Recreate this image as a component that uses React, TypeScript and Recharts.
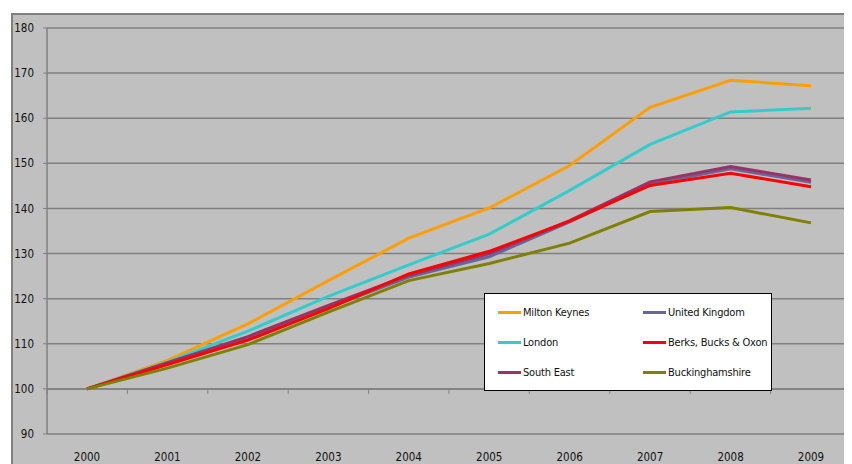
import { LineChart, Line, XAxis, YAxis, CartesianGrid, ReferenceLine, Legend } from 'recharts';

const YEARS = ['2000', '2001', '2002', '2003', '2004', '2005', '2006', '2007', '2008', '2009'];
const MILTON_KEYNES = [100, 106.3, 114.4, 124, 133.4, 140.1, 149.5, 162.4, 168.4, 167.2];
const LONDON = [100, 106, 112.8, 120.5, 127.5, 134.3, 144, 154.2, 161.4, 162.2];
const UNITED_KINGDOM = [100, 105.5, 111.1, 118, 124.8, 129.3, 137, 145.4, 148.8, 145.8];
const SOUTH_EAST = [100, 105.8, 111.6, 118.5, 125.2, 130, 137.3, 145.9, 149.3, 146.3];
const BERKS_BUCKS_OXON = [100, 105.4, 110.8, 117.8, 125.5, 130.5, 137.2, 145.1, 147.8, 144.8];
const BUCKINGHAMSHIRE = [100, 104.6, 109.8, 117, 124, 127.8, 132.3, 139.3, 140.2, 136.8];
const Y_TICKS = [90, 100, 110, 120, 130, 140, 150, 160, 170, 180];

// legend order (row by row, two columns)
const SERIES = [
  { key: 'mk', name: 'Milton Keynes', color: '#FF9E00', values: MILTON_KEYNES },
  { key: 'uk', name: 'United Kingdom', color: '#666699', values: UNITED_KINGDOM },
  { key: 'london', name: 'London', color: '#33CCCC', values: LONDON },
  { key: 'bbo', name: 'Berks, Bucks & Oxon', color: '#FF0000', values: BERKS_BUCKS_OXON },
  { key: 'se', name: 'South East', color: '#993366', values: SOUTH_EAST },
  { key: 'bucks', name: 'Buckinghamshire', color: '#808000', values: BUCKINGHAMSHIRE },
];

// drawing order
const DRAW_ORDER = ['mk', 'london', 'uk', 'se', 'bbo', 'bucks'];

const data = YEARS.map((year, i) => {
  const row: Record<string, string | number> = { year };
  SERIES.forEach((s) => {
    row[s.key] = s.values[i];
  });
  return row;
});

const FONT = '"Liberation Sans Narrow", "DejaVu Sans Condensed", "Arial Narrow", sans-serif';

// x axis crosses at 100, with tick marks between categories
function CrossAxis(props: any) {
  const { x1, y1, x2, y2 } = props;
  const step = (x2 - x1) / YEARS.length;
  const marks = [];
  for (let k = 0; k <= YEARS.length; k++) {
    const x = x1 + k * step;
    marks.push(<line key={k} x1={x} y1={y1} x2={x} y2={y1 + 5} stroke="#808080" strokeWidth={1} />);
  }
  return (
    <g>
      <line x1={x1} y1={y1} x2={x2} y2={y2} stroke="#808080" strokeWidth={1.5} />
      {marks}
    </g>
  );
}

function LegendBox() {
  return (
    <div
      style={{
        width: 288,
        height: 98,
        boxSizing: 'border-box',
        background: '#fff',
        border: '1px solid #000',
        display: 'grid',
        gridTemplateColumns: '145px 141px',
        gridTemplateRows: 'repeat(3, 1fr)',
        alignItems: 'center',
        padding: '3px 0 2px 0',
        fontFamily: FONT,
        fontSize: 11,
        letterSpacing: -0.2,
        color: '#111',
      }}
    >
      {SERIES.map((s) => (
        <div key={s.key} style={{ display: 'flex', alignItems: 'center', paddingLeft: 13, whiteSpace: 'nowrap' }}>
          <span style={{ display: 'inline-block', width: 23, height: 3, background: s.color, marginRight: 2, flexShrink: 0 }} />
          <span>{s.name}</span>
        </div>
      ))}
    </div>
  );
}

export default function App() {
  return (
    <div style={{ width: 844, height: 456, overflow: 'hidden', position: 'relative' }}>
      <div
        style={{
          position: 'absolute',
          left: 3,
          top: 5,
          width: 841,
          height: 459,
          background: '#C0C0C0',
          borderTop: '2px solid #808080',
          borderLeft: '2px solid #808080',
          boxSizing: 'border-box',
        }}
      >
        <LineChart
          width={839}
          height={457}
          data={data}
          margin={{ top: 13, right: 1, bottom: 0, left: 0 }}
          style={{ fontFamily: FONT }}
        >
          <CartesianGrid vertical={false} stroke="#808080" strokeWidth={1.5} />
          <XAxis
            dataKey="year"
            padding={{ left: 40, right: 40 }}
            axisLine={false}
            tickLine={false}
            tickMargin={13}
            height={38}
            interval={0}
            tick={{ fill: '#111', fontSize: 11.5 }}
          />
          <YAxis
            domain={[90, 180]}
            ticks={Y_TICKS}
            width={34}
            axisLine={{ stroke: '#808080', strokeWidth: 1.5 }}
            tickLine={{ stroke: '#808080' }}
            tickSize={4}
            tickMargin={9}
            interval={0}
            tick={{ fill: '#111', fontSize: 11.5 }}
          />
          <ReferenceLine y={100} shape={CrossAxis} />
          {DRAW_ORDER.map((k) => {
            const s = SERIES.find((x) => x.key === k)!;
            return (
              <Line
                key={s.key}
                dataKey={s.key}
                name={s.name}
                stroke={s.color}
                strokeWidth={3}
                dot={false}
                activeDot={false}
                isAnimationActive={false}
              />
            );
          })}
          <Legend
            layout="horizontal"
            verticalAlign="middle"
            align="center"
            wrapperStyle={{ left: 471, top: 278, width: 288, height: 98 }}
            content={() => <LegendBox />}
          />
        </LineChart>
      </div>
    </div>
  );
}
